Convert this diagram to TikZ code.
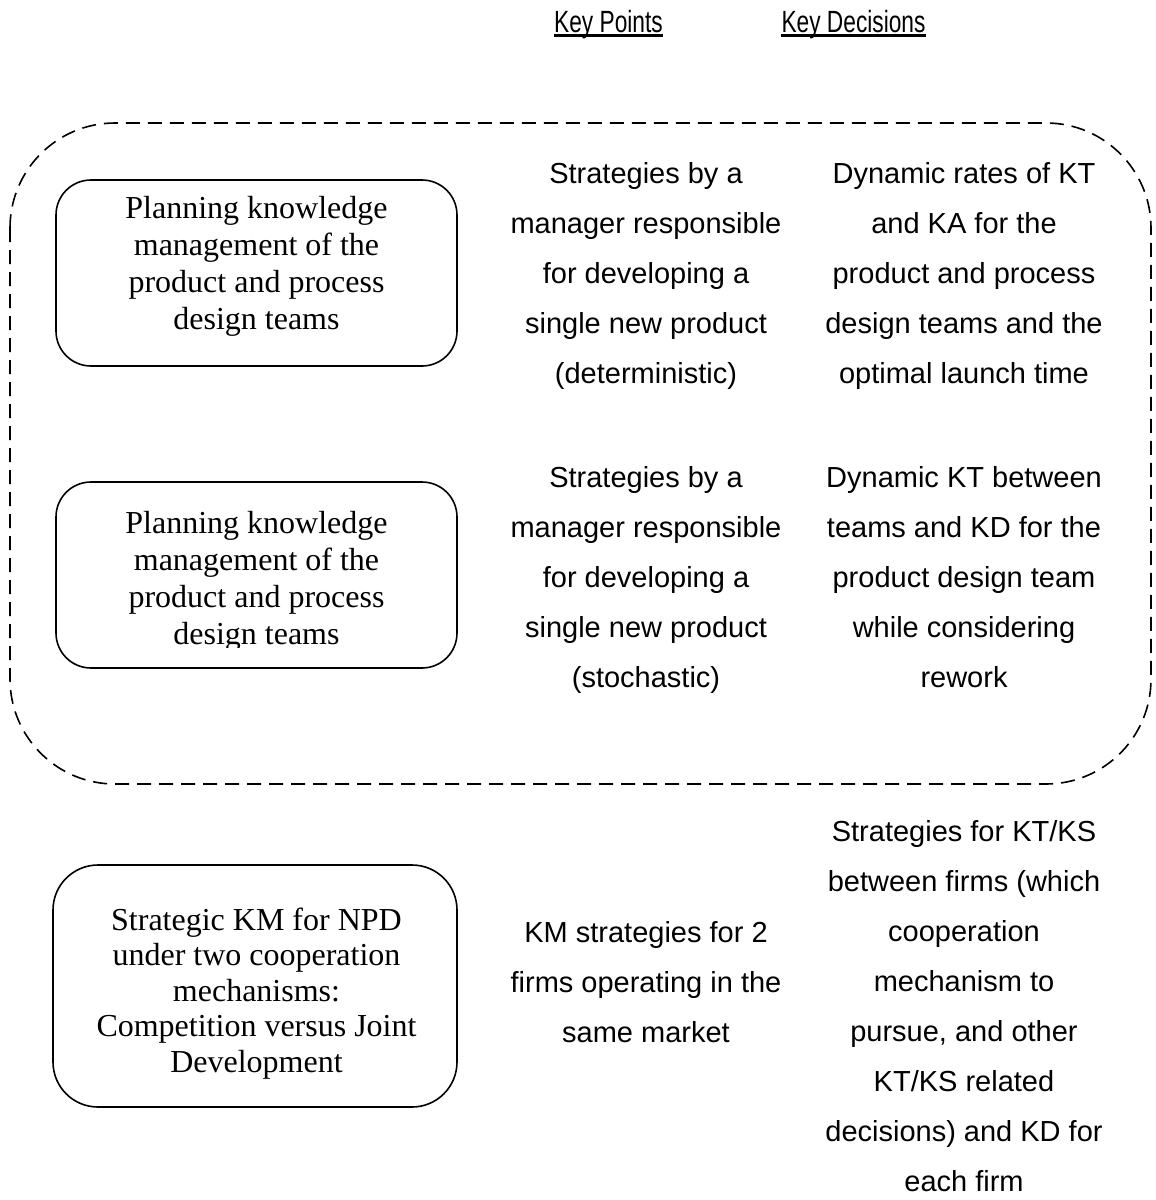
\documentclass[tikz,border=0pt]{standalone}
\usepackage{fontspec}
\setmainfont{Liberation Serif}
\newfontfamily\arialf{Liberation Sans}
\newfontfamily\arialcond[FakeStretch=0.74]{Liberation Sans}
\begin{document}
\begin{tikzpicture}[x=1pt,y=-1pt,
  boxline/.style={line width=1.6pt},
  serifbox/.style={boxline, draw, rounded corners=35pt},
  seriftext/.style={align=center, inner sep=0pt, anchor=base, font=\fontsize{32}{37}\selectfont},
  sanstext/.style={align=center, inner sep=0pt, anchor=base, font=\arialf\fontsize{29}{50}\selectfont},
  header/.style={inner sep=0pt, anchor=base, font=\arialcond\fontsize{30.7}{34}\selectfont},
  uline/.style={line width=3.5pt},
  group/.style={line width=1.6pt, dash pattern=on 14pt off 8pt, rounded corners=105pt}
]
\useasboundingbox (0,0) rectangle (1156,1200);
% headers
\node[header] (kp) at (608.5,32) {Key Points};
\node[header] (kd) at (853.5,32) {Key Decisions};
\draw[uline] ([yshift=-3.6pt]kp.base west) -- ([yshift=-3.6pt]kp.base east);
\draw[uline] ([yshift=-3.6pt]kd.base west) -- ([yshift=-3.6pt]kd.base east);
% dashed group
\draw[group] (10,123) rectangle (1151,784);
% box 1
\draw[serifbox] (56,180) rectangle (457,366);
\node[seriftext] (t1) at (256.5,329) {Planning knowledge\\management of the\\product and process\\design teams};
% box 2 (text clipped)
\draw[serifbox] (56,482) rectangle (457,668);
\begin{scope}
\clip (56,482) rectangle (457,647);
\node[seriftext] (t2) at (256.5,644) {Planning knowledge\\management of the\\product and process\\design teams};
\end{scope}
% box 3
\draw[boxline, rounded corners=45pt] (53,865) rectangle (457,1107);
\node[seriftext, font=\fontsize{32}{35.5}\selectfont] (t3) at (256.5,1072) {Strategic KM for NPD\\under two cooperation\\mechanisms:\\Competition versus Joint\\Development};
% key points
\node[sanstext] (p1) at (646,383) {Strategies by a\\manager responsible\\for developing a\\single new product\\(deterministic)};
\node[sanstext] (p2) at (646,687) {Strategies by a\\manager responsible\\for developing a\\single new product\\(stochastic)};
\node[sanstext] (p3) at (646,1042) {KM strategies for 2\\firms operating in the\\same market};
% key decisions
\node[sanstext] (d1) at (964,383) {Dynamic rates of KT\\and KA for the\\product and process\\design teams and the\\optimal launch time};
\node[sanstext] (d2) at (964,687) {Dynamic KT between\\teams and KD for the\\product design team\\while considering\\rework};
\node[sanstext] (d3) at (964,1191) {Strategies for KT/KS\\between firms (which\\cooperation\\mechanism to\\pursue, and other\\KT/KS related\\decisions) and KD for\\each firm};
\end{tikzpicture}
\end{document}
